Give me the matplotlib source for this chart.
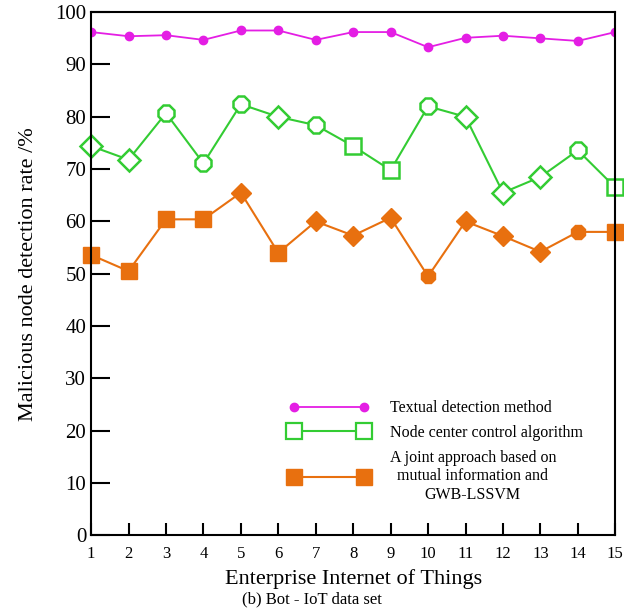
"""
Malicious node detection rate on the Bot-IoT data set, three methods.
Writes: out.png
"""

import matplotlib
matplotlib.use("Agg")
import matplotlib.pyplot as plt
import numpy as np

plt.rcParams["font.family"] = ["Liberation Serif", "DejaVu Serif"]

enterprises = list(range(1, 16))
textual = [96.2, 95.4, 95.6, 94.7, 96.5, 96.5, 94.7, 96.2, 96.2, 93.3, 95.1, 95.5, 95.0, 94.5, 96.2]
node_center = [74.4, 71.8, 80.7, 71.1, 82.4, 80.0, 78.4, 74.4, 69.8, 82.0, 80.0, 65.5, 68.5, 73.6, 66.5]
joint = [53.6, 50.5, 60.4, 60.4, 65.5, 54.0, 60.0, 57.3, 60.7, 49.5, 60.0, 57.2, 54.2, 58.0, 58.0]

labels = ["Textual detection method",
          "Node center control algorithm",
          "A joint approach based on\nmutual information and\nGWB-LSSVM"]

MAGENTA = "#e41ee4"
GREEN = "#33cc33"
ORANGE = "#e8700f"

# marker shape per point, as drawn in the original figure
green_marks = ["D", "D", "8", "8", "8", "D", "8", "s", "s", "8", "D", "D", "D", "8", "s"]
orange_marks = ["s", "s", "s", "s", "D", "s", "D", "D", "D", "8", "D", "D", "D", "8", "s"]

fig = plt.figure(figsize=(6.24, 6.09), dpi=100)
ax = fig.add_axes([0.146, 0.121, 0.840, 0.859])

x = np.array(enterprises)
ax.plot(x, textual, color=MAGENTA, lw=1.3, marker="o", ms=6, label=labels[0])

ax.plot(x, node_center, color=GREEN, lw=1.5)
for xi, yi, m in zip(x, node_center, green_marks):
    ax.plot(xi, yi, marker=m, ms=12 if m != "D" else 11, mfc="white", mec=GREEN, mew=1.8, clip_on=False)

ax.plot(x, joint, color=ORANGE, lw=1.5)
for xi, yi, m in zip(x, joint, orange_marks):
    ax.plot(xi, yi, marker=m, ms=11 if m != "D" else 10, mfc=ORANGE, mec=ORANGE, clip_on=False)

# legend proxies
h1, = ax.plot([], [], color=MAGENTA, lw=1.3, marker="o", ms=6)
h2, = ax.plot([], [], color=GREEN, lw=1.5, marker="s", ms=11, mfc="white", mec=GREEN, mew=1.6)
h3, = ax.plot([], [], color=ORANGE, lw=1.5, marker="s", ms=11, mfc=ORANGE, mec=ORANGE)
leg = ax.legend([h1, h2, h3], labels, loc="lower right", bbox_to_anchor=(0.965, 0.035),
                frameon=False, numpoints=2, handlelength=5.0, fontsize=11.5,
                labelspacing=0.55, handletextpad=1.3)
for t in leg.get_texts():
    t.set_ha("center")
    t.set_multialignment("center")

ax.set_xlim(1, 15)
ax.set_ylim(0, 100)
ax.set_xticks(enterprises)
ax.set_yticks(np.arange(0, 101, 10))
ax.tick_params(axis="y", direction="in", length=14, width=1.5, labelsize=15, right=False)
ax.tick_params(axis="x", direction="in", length=9, width=1.5, labelsize=12, top=False, pad=8)
for s in ax.spines.values():
    s.set_linewidth(1.5)

ax.set_ylabel("Malicious node detection rate /%", fontsize=16, labelpad=12)
ax.set_xlabel("Enterprise Internet of Things", fontsize=16, labelpad=5)
fig.text(0.5, 0.002, "(b) Bot - IoT data set", ha="center", va="bottom", fontsize=12)

fig.savefig("out.png", dpi=100)
